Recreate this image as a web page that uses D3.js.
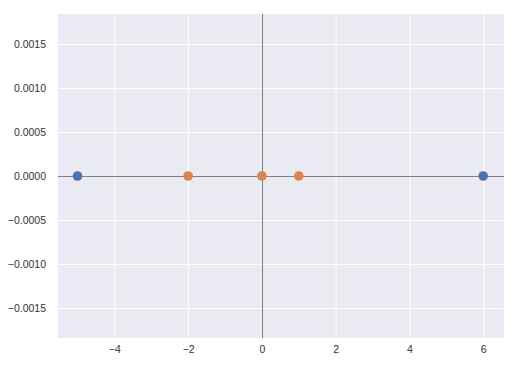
<!DOCTYPE html>
<html>
<head>
<meta charset="utf-8">
<script src="https://cdn.jsdelivr.net/npm/d3@7"></script>
<style>
  body { margin: 0; background: #fff; }
  svg { display: block; font-family: "Liberation Sans", Arial, sans-serif; }
</style>
</head>
<body>
<svg id="chart" width="516" height="366"></svg>
<script>
// data
var blueX = [-5, 6];
var blueY = [0, 0];
var orangeX = [-2, 0, 1];
var orangeY = [0, 0, 0];
var xTicks = [-4, -2, 0, 2, 4, 6];
var yTicks = [-0.0015, -0.0010, -0.0005, 0, 0.0005, 0.0010, 0.0015];

var svg = d3.select('#chart');
var margin = {top: 14, right: 12, bottom: 28, left: 58};
var width = 516, height = 366;

var xScale = d3.scaleLinear()
    .domain([-5.55, 6.55])
    .range([57.2, 503.5]);
var yScale = d3.scaleLinear()
    .domain([-0.00184, 0.00184])
    .range([height - margin.bottom, margin.top]);

svg.append('rect')
    .attr('x', margin.left)
    .attr('y', margin.top)
    .attr('width', width - margin.left - margin.right)
    .attr('height', height - margin.top - margin.bottom)
    .attr('fill', '#eaeaf2');

var fmtY = function(d) { return d3.format('.4f')(d).replace('-', '\u2212'); };
var fmtX = function(d) { return String(d).replace('-', '\u2212'); };

var xAxis = svg.append('g')
    .attr('transform', `translate(0,${height - margin.bottom})`)
    .call(d3.axisBottom(xScale).tickValues(xTicks).tickFormat(fmtX)
        .tickSize(-(height - margin.top - margin.bottom)).tickPadding(8));
var yAxis = svg.append('g')
    .attr('transform', `translate(${margin.left},0)`)
    .call(d3.axisLeft(yScale).tickValues(yTicks).tickFormat(fmtY)
        .tickSize(-(width - margin.left - margin.right)).tickPadding(12));

[xAxis, yAxis].forEach(function(ax) {
    ax.select('.domain').remove();
    ax.selectAll('.tick line').attr('stroke', '#ffffff').attr('stroke-width', 1);
    ax.selectAll('.tick text').attr('fill', '#333333').attr('font-size', 10.5);
});

// zero lines
var y0 = Math.round(yScale(0)) + 0.5;
var x0 = Math.round(xScale(0)) + 0.5;
svg.append('line')
    .attr('x1', margin.left).attr('x2', width - margin.right)
    .attr('y1', y0).attr('y2', y0)
    .attr('stroke', '#808080').attr('stroke-width', 1);
svg.append('line')
    .attr('x1', x0).attr('x2', x0)
    .attr('y1', margin.top).attr('y2', height - margin.bottom)
    .attr('stroke', '#808080').attr('stroke-width', 1);

var blue = blueX.map((d, i) => ({x: d, y: blueY[i]}));
var orange = orangeX.map((d, i) => ({x: d, y: orangeY[i]}));

svg.append('g').selectAll('circle')
    .data(blue)
    .join('circle')
    .attr('cx', d => xScale(d.x))
    .attr('cy', d => yScale(d.y))
    .attr('r', 4.8)
    .attr('fill', '#4c72b0');

svg.append('g').selectAll('circle')
    .data(orange)
    .join('circle')
    .attr('cx', d => xScale(d.x))
    .attr('cy', d => yScale(d.y))
    .attr('r', 4.8)
    .attr('fill', '#dd8452');
</script>
</body>
</html>
